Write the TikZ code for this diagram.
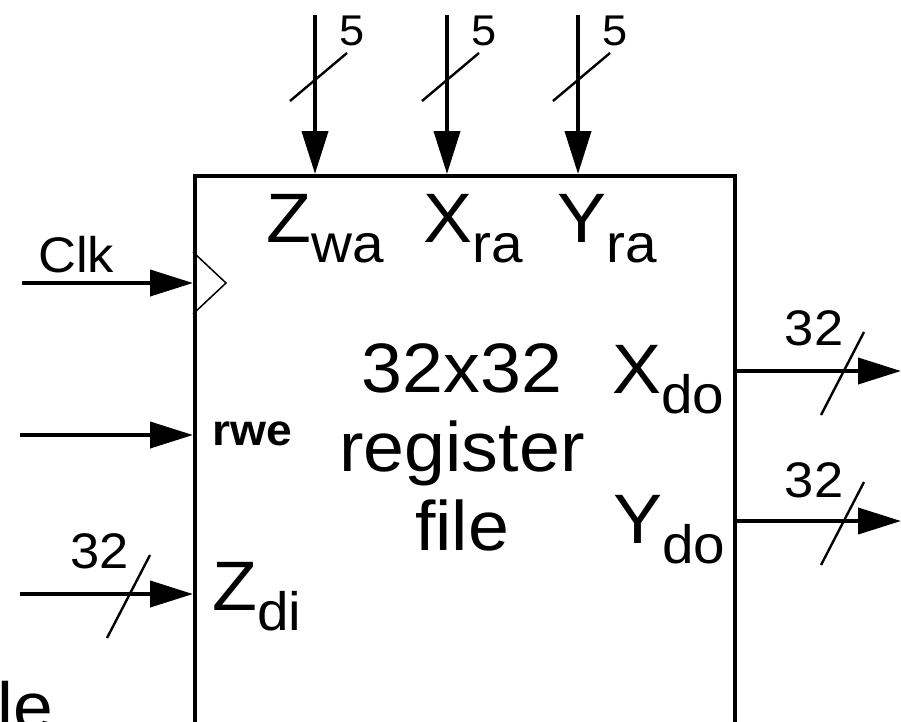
\documentclass[tikz,border=0pt]{standalone}
\usepackage{fontspec}
\setmainfont[FakeStretch=1.05]{Liberation Sans}
\usetikzlibrary{arrows.meta}
\newcommand{\portsub}[2]{#1\raisebox{-20pt}{\fontsize{54}{54}\selectfont #2}}
\newcommand{\vtick}[1]{\draw[tick] (#1) ++(-25,21) -- ++(57,-48);}
\newcommand{\htick}[1]{\draw[tick] (#1) ++(-23,44) -- ++(43,-83);}
\tikzset{
  wire/.style={-{Triangle[length=43pt,width=26pt]}, line width=4pt},
  tick/.style={line width=2.4pt},
  lbl/.style={inner sep=0pt, anchor=base west, font=\fontsize{70}{79}\selectfont},
  buswd/.style={inner sep=0pt, anchor=base, font=\fontsize{50}{50}\selectfont},
  addrwd/.style={inner sep=0pt, anchor=base, font=\fontsize{43}{43}\selectfont},
}
\begin{document}
\begin{tikzpicture}[x=1pt, y=-1pt]
  \useasboundingbox (0,0) rectangle (901,721);
  \clip (0,0) rectangle (901,721);

  % register file block, cut off at the bottom
  \node[draw, line width=4.2pt, minimum width=540pt, minimum height=620pt,
        anchor=north west, inner sep=0pt] (rf) at (193,174) {};
  \node[align=center, inner sep=0pt, anchor=base,
        font=\fontsize{70}{79}\selectfont] (core) at (462,550) {32x32\\register\\file};

  % port labels
  \node[lbl] (zwa) at (266,242) {\portsub{Z}{wa}};
  \node[lbl] (xra) at (423,242) {\portsub{X}{ra}};
  \node[lbl] (yra) at (557,242) {\portsub{Y}{ra}};
  \node[lbl] (xdo) at (612,393) {\portsub{X}{do}};
  \node[lbl] (ydo) at (613,543) {\portsub{Y}{do}};
  \node[lbl] (zdi) at (212,610) {\portsub{Z}{di}};
  \node[inner sep=0pt, anchor=base west, font=\fontsize{44}{44}\selectfont\bfseries]
    (rwe) at (212,445) {rwe};

  % address inputs
  \coordinate (zwa-in) at (315,15);
  \coordinate (xra-in) at (447,15);
  \coordinate (yra-in) at (578,15);
  \draw[wire] (zwa-in) -- (zwa-in |- rf.north);
  \draw[wire] (xra-in) -- (xra-in |- rf.north);
  \draw[wire] (yra-in) -- (yra-in |- rf.north);
  \coordinate (zwa-t) at (315,80);
  \coordinate (xra-t) at (447,80);
  \coordinate (yra-t) at (578,80);
  \vtick{zwa-t} \vtick{xra-t} \vtick{yra-t}
  \node[addrwd] (zwa-w) at (352,45) {5};
  \node[addrwd] (xra-w) at (484,45) {5};
  \node[addrwd] (yra-w) at (615,45) {5};

  % left inputs
  \coordinate (clk-in) at (22,283);
  \coordinate (rwe-in) at (20,435);
  \coordinate (zdi-in) at (20,594);
  \draw[wire] (clk-in) -- (clk-in -| rf.west);
  \draw[wire] (rwe-in) -- (rwe-in -| rf.west);
  \draw[wire] (zdi-in) -- (zdi-in -| rf.west);
  \node[inner sep=0pt, anchor=base west, font=\fontsize{50}{50}\selectfont]
    (clk) at (38,272) {Clk};
  \coordinate (clk-pt) at (193,283);
  \draw[line width=1.5pt] (clk-pt) ++(0,-31) -- ++(33,31) -- ++(-33,31);
  \coordinate (zdi-t) at (130,594);
  \htick{zdi-t}
  \node[buswd] (zdi-w) at (100,568) {32};

  % data outputs
  \coordinate (xdo-out) at (901,371);
  \coordinate (ydo-out) at (901,521);
  \draw[wire] (xdo-out -| rf.east) -- (xdo-out);
  \draw[wire] (ydo-out -| rf.east) -- (ydo-out);
  \coordinate (xdo-t) at (844,371);
  \coordinate (ydo-t) at (844,521);
  \htick{xdo-t} \htick{ydo-t}
  \node[buswd] (xdo-w) at (814,345) {32};
  \node[buswd] (ydo-w) at (814,497) {32};

  % cut-off caption
  \node[inner sep=0pt, anchor=base west, font=\fontsize{68}{68}\selectfont]
    (caption) at (-3,730) {le};
\end{tikzpicture}
\end{document}
